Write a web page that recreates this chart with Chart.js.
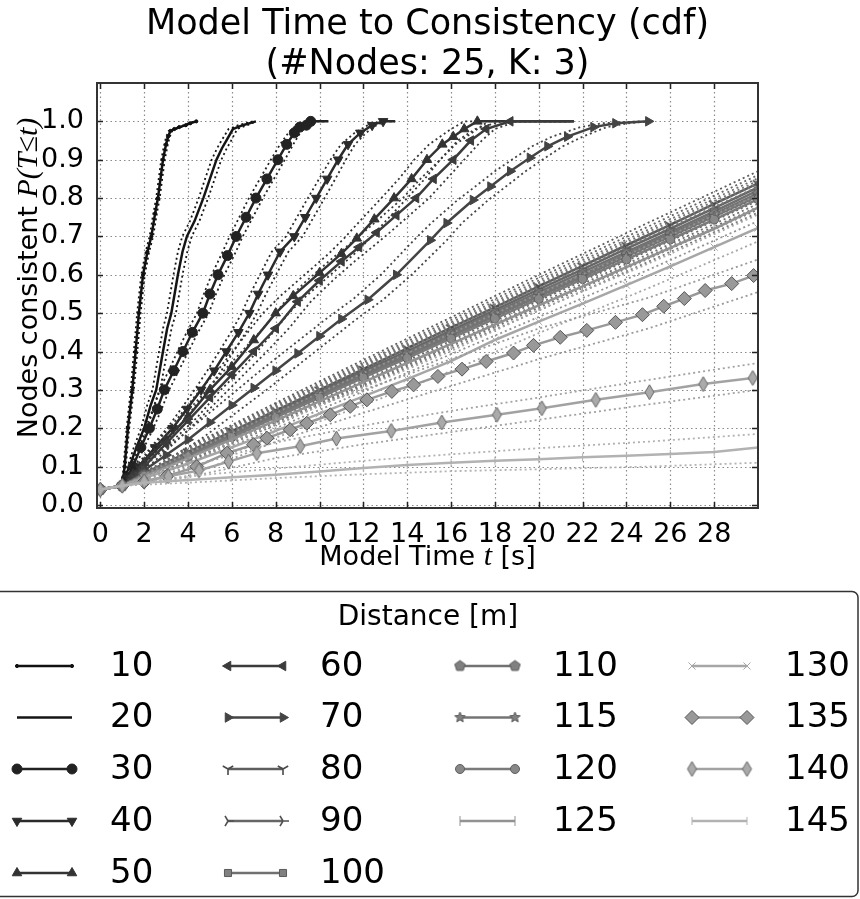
<!DOCTYPE html>
<html>
<head>
<meta charset="utf-8">
<title>Model Time to Consistency (cdf)</title>
<script src="https://cdn.jsdelivr.net/npm/chart.js@4.4.0/dist/chart.umd.min.js"></script>
<style>
  html, body { margin: 0; padding: 0; background: #fff; }
  canvas { display: block; }
</style>
</head>
<body>
<canvas id="cdfChart" width="860" height="899"></canvas>
<script>
// Axis ticks
const xTicks = [0, 2, 4, 6, 8, 10, 12, 14, 16, 18, 20, 22, 24, 26, 28];
const yTicks = [0.0, 0.1, 0.2, 0.3, 0.4, 0.5, 0.6, 0.7, 0.8, 0.9, 1.0];

// Distances (legend labels)
const distances = ['10', '20', '30', '40', '50', '60', '70', '80', '90', '100',
                   '110', '115', '120', '125', '130', '135', '140', '145'];

// Short distances: time samples (mean / lower bound / upper bound) sharing one probability list
const s10T   = [0, 1.0, 1.05, 1.11, 1.26, 1.46, 1.61, 1.76, 1.95, 2.15, 2.33, 2.5, 2.63, 2.86, 3.0, 3.09, 3.2, 3.38, 3.6, 3.9, 4.1, 4.38];
const s10TLo = [0, 1.0, 1.08, 1.16, 1.32, 1.53, 1.69, 1.84, 2.03, 2.23, 2.41, 2.58, 2.71, 2.94, 3.08, 3.17, 3.28, 3.46, 3.68, 3.98, 4.18, 4.38];
const s10THi = [0, 0.98, 1.02, 1.06, 1.2, 1.39, 1.53, 1.68, 1.87, 2.07, 2.25, 2.42, 2.55, 2.78, 2.92, 3.01, 3.12, 3.3, 3.52, 3.82, 4.02, 4.3];
const s10P   = [0.04, 0.05, 0.07, 0.1, 0.2, 0.3, 0.4, 0.5, 0.6, 0.66, 0.7, 0.76, 0.8, 0.9, 0.94, 0.96, 0.975, 0.98, 0.985, 0.99, 0.995, 1.0];

const s20T   = [0, 1.0, 1.1, 1.33, 1.65, 2.0, 2.3, 2.55, 2.86, 3.05, 3.24, 3.54, 3.75, 3.95, 4.3, 4.7, 5.0, 5.3, 5.55, 5.75, 6.05, 6.5, 7.1];
const s20TLo = [0, 1.0, 1.15, 1.42, 1.78, 2.15, 2.47, 2.73, 3.05, 3.25, 3.45, 3.75, 3.97, 4.17, 4.52, 4.92, 5.22, 5.52, 5.77, 5.97, 6.25, 6.7, 7.1];
const s20THi = [0, 0.98, 1.05, 1.25, 1.53, 1.86, 2.14, 2.38, 2.68, 2.86, 3.04, 3.34, 3.54, 3.74, 4.09, 4.49, 4.78, 5.08, 5.33, 5.53, 5.85, 6.3, 6.95];
const s20P   = [0.04, 0.05, 0.07, 0.1, 0.15, 0.2, 0.26, 0.3, 0.4, 0.46, 0.5, 0.6, 0.66, 0.7, 0.74, 0.8, 0.85, 0.9, 0.93, 0.95, 0.98, 0.99, 1.0];

const s30T   = [0, 1.0, 1.2, 1.49, 1.85, 2.24, 2.6, 2.92, 3.35, 3.77, 4.2, 4.68, 5.0, 5.37, 5.8, 6.2, 6.65, 7.1, 7.6, 8.1, 8.5, 8.85, 9.1, 9.4, 9.6, 10.4];
const s30TLo = [0, 1.0, 1.26, 1.6, 2.0, 2.42, 2.8, 3.14, 3.58, 4.02, 4.46, 4.95, 5.28, 5.66, 6.1, 6.5, 6.96, 7.42, 7.92, 8.42, 8.8, 9.12, 9.35, 9.62, 9.8, 10.4];
const s30THi = [0, 0.98, 1.14, 1.38, 1.7, 2.06, 2.4, 2.7, 3.12, 3.52, 3.94, 4.41, 4.72, 5.08, 5.5, 5.9, 6.34, 6.78, 7.28, 7.78, 8.2, 8.58, 8.85, 9.18, 9.4, 10.3];
const s30P   = [0.04, 0.05, 0.07, 0.1, 0.15, 0.2, 0.25, 0.3, 0.35, 0.4, 0.45, 0.5, 0.55, 0.6, 0.65, 0.7, 0.75, 0.8, 0.85, 0.9, 0.94, 0.97, 0.985, 0.99, 1.0, 1.0];

const s40T   = [0, 1.0, 1.3, 1.78, 2.5, 3.3, 3.95, 4.6, 5.2, 5.75, 6.3, 6.8, 7.2, 7.65, 8.2, 8.85, 9.35, 9.85, 10.35, 10.85, 11.3, 11.86, 12.4, 12.9, 13.45];
const s40TLo = [0, 1.0, 1.38, 1.92, 2.7, 3.55, 4.22, 4.9, 5.52, 6.08, 6.64, 7.15, 7.56, 8.02, 8.58, 9.23, 9.73, 10.23, 10.72, 11.2, 11.62, 12.12, 12.6, 13.0, 13.45];
const s40THi = [0, 0.98, 1.22, 1.64, 2.3, 3.05, 3.68, 4.3, 4.88, 5.42, 5.96, 6.45, 6.84, 7.28, 7.82, 8.47, 8.97, 9.47, 9.98, 10.5, 10.98, 11.6, 12.2, 12.8, 13.4];
const s40P   = [0.04, 0.05, 0.07, 0.1, 0.15, 0.2, 0.25, 0.3, 0.35, 0.4, 0.45, 0.5, 0.55, 0.6, 0.66, 0.7, 0.75, 0.8, 0.85, 0.9, 0.94, 0.97, 0.99, 1.0, 1.0];

const s50T   = [0, 1.0, 1.5, 2, 3, 4, 5, 6, 7, 8, 8.8, 10, 11, 11.7, 12.5, 13.4, 14.2, 14.9, 15.6, 16.1, 16.6, 17.2, 21.6];
const s50TLo = [0, 1.0, 1.6, 2.2, 3.35, 4.45, 5.5, 6.55, 7.6, 8.6, 9.4, 10.6, 11.6, 12.3, 13.1, 14.0, 14.8, 15.5, 16.2, 16.7, 17.2, 17.7, 21.6];
const s50THi = [0, 0.98, 1.4, 1.82, 2.68, 3.58, 4.55, 5.48, 6.45, 7.42, 8.22, 9.42, 10.42, 11.12, 11.92, 12.82, 13.62, 14.32, 15.0, 15.5, 16.0, 16.6, 21.3];
const s50P   = [0.04, 0.05, 0.08, 0.11, 0.17, 0.23, 0.3, 0.36, 0.43, 0.5, 0.545, 0.605, 0.655, 0.695, 0.745, 0.8, 0.85, 0.9, 0.94, 0.96, 0.98, 1.0, 1.0];

const s60T   = [0, 1.0, 1.5, 2, 3, 4, 5, 6, 7, 8, 9, 10, 11, 11.8, 12.6, 13.5, 14.4, 15.2, 16.1, 16.9, 17.6, 18.7, 21.6];
const s60TLo = [0, 1.0, 1.6, 2.2, 3.35, 4.45, 5.5, 6.55, 7.6, 8.6, 9.6, 10.6, 11.6, 12.4, 13.2, 14.1, 15.0, 15.8, 16.6, 17.4, 18.0, 19.0, 21.6];
const s60THi = [0, 0.98, 1.4, 1.82, 2.68, 3.58, 4.55, 5.48, 6.45, 7.42, 8.42, 9.42, 10.42, 11.2, 12.0, 12.9, 13.8, 14.6, 15.5, 16.3, 17.1, 18.3, 21.3];
const s60P   = [0.04, 0.05, 0.075, 0.1, 0.16, 0.22, 0.28, 0.34, 0.4, 0.46, 0.53, 0.585, 0.635, 0.672, 0.71, 0.755, 0.8, 0.85, 0.9, 0.95, 0.98, 1.0, 1.0];

const s70T   = [0, 1.0, 2, 3, 4, 5, 6, 7, 8, 9, 10, 11, 12.2, 13.5, 15.05, 15.8, 17.0, 17.8, 18.7, 19.6, 20.4, 21.3, 22.5, 23.5, 25.0];
const s70TLo = [0, 1.0, 2.3, 3.45, 4.55, 5.6, 6.65, 7.7, 8.7, 9.7, 10.7, 11.7, 12.9, 14.2, 15.8, 16.5, 17.7, 18.5, 19.4, 20.3, 21.1, 22.0, 23.1, 24.1, 25.0];
const s70THi = [0, 0.98, 1.75, 2.6, 3.5, 4.45, 5.4, 6.35, 7.3, 8.3, 9.3, 10.3, 11.5, 12.8, 14.3, 15.1, 16.3, 17.1, 18.0, 18.9, 19.7, 20.6, 21.9, 22.9, 24.6];
const s70P   = [0.04, 0.05, 0.09, 0.13, 0.17, 0.215, 0.26, 0.305, 0.35, 0.395, 0.44, 0.485, 0.535, 0.6, 0.69, 0.735, 0.795, 0.83, 0.87, 0.905, 0.935, 0.96, 0.985, 0.995, 1.0];

// Long distances: probability at shared time samples
const gT  = [0, 1, 2, 4, 6, 8, 10, 12, 14, 16, 18, 20, 22, 24, 26, 28, 30];
const s80P  = [0.04, 0.05, 0.082, 0.138, 0.192, 0.246, 0.3, 0.354, 0.408, 0.462, 0.515, 0.57, 0.623, 0.677, 0.73, 0.785, 0.838];
const s90P  = [0.04, 0.05, 0.08, 0.135, 0.188, 0.241, 0.295, 0.348, 0.401, 0.455, 0.508, 0.562, 0.614, 0.668, 0.72, 0.774, 0.828];
const s100P = [0.04, 0.05, 0.079, 0.132, 0.185, 0.237, 0.29, 0.343, 0.396, 0.449, 0.502, 0.555, 0.607, 0.66, 0.712, 0.765, 0.82];
const s110P = [0.04, 0.05, 0.078, 0.13, 0.182, 0.234, 0.287, 0.339, 0.392, 0.444, 0.497, 0.549, 0.6, 0.654, 0.706, 0.758, 0.812];
const s115P = [0.04, 0.05, 0.077, 0.128, 0.18, 0.232, 0.284, 0.336, 0.388, 0.44, 0.492, 0.544, 0.595, 0.648, 0.7, 0.752, 0.805];
const s120P = [0.04, 0.05, 0.076, 0.126, 0.177, 0.228, 0.28, 0.332, 0.383, 0.434, 0.486, 0.537, 0.589, 0.64, 0.692, 0.744, 0.797];
const s125P = [0.04, 0.05, 0.074, 0.122, 0.171, 0.22, 0.27, 0.32, 0.37, 0.42, 0.47, 0.52, 0.57, 0.62, 0.67, 0.72, 0.775];
const s130P = [0.04, 0.05, 0.07, 0.108, 0.15, 0.193, 0.238, 0.283, 0.328, 0.375, 0.43, 0.478, 0.525, 0.573, 0.622, 0.672, 0.722];
const s145P = [0.04, 0.05, 0.058, 0.065, 0.072, 0.079, 0.087, 0.096, 0.104, 0.11, 0.115, 0.119, 0.124, 0.128, 0.133, 0.138, 0.15];

const s135T = [0, 1, 2, 3.04, 4.4, 5.78, 6.99, 7.6, 8.66, 9.42, 10.49, 11.4, 12.16, 13.3, 14.29, 15.4, 16.5, 17.6, 18.85, 19.76, 20.98, 22.19, 23.5, 24.73, 25.7, 26.64, 27.59, 28.8, 29.8];
const s135P = [0.04, 0.05, 0.06, 0.075, 0.1, 0.135, 0.157, 0.174, 0.196, 0.213, 0.235, 0.257, 0.274, 0.296, 0.313, 0.335, 0.354, 0.374, 0.396, 0.416, 0.437, 0.455, 0.476, 0.496, 0.518, 0.538, 0.559, 0.577, 0.598];
const s140T = [0, 1, 2.0, 3.1, 4.5, 5.85, 7.14, 9.12, 10.77, 13.27, 15.58, 18.09, 20.14, 22.6, 25.05, 27.5, 29.76];
const s140P = [0.04, 0.05, 0.062, 0.075, 0.09, 0.113, 0.135, 0.153, 0.173, 0.193, 0.215, 0.235, 0.252, 0.274, 0.294, 0.315, 0.331];

// Confidence bounds of the long distances
const gTb = [0, 1, 4, 8, 12, 16, 20, 25, 30];
const s80Lo  = [0.04, 0.05, 0.125, 0.226, 0.33, 0.435, 0.54, 0.672, 0.803];
const s80Hi  = [0.04, 0.05, 0.151, 0.266, 0.378, 0.489, 0.6, 0.736, 0.87];
const s90Lo  = [0.04, 0.05, 0.122, 0.221, 0.324, 0.428, 0.532, 0.662, 0.793];
const s90Hi  = [0.04, 0.05, 0.148, 0.261, 0.372, 0.482, 0.592, 0.726, 0.86];
const s100Lo = [0.04, 0.05, 0.119, 0.217, 0.319, 0.422, 0.525, 0.654, 0.785];
const s100Hi = [0.04, 0.05, 0.145, 0.257, 0.367, 0.476, 0.585, 0.718, 0.852];
const s110Lo = [0.04, 0.05, 0.117, 0.214, 0.315, 0.417, 0.519, 0.648, 0.777];
const s110Hi = [0.04, 0.05, 0.143, 0.254, 0.363, 0.471, 0.579, 0.712, 0.845];
const s115Lo = [0.04, 0.05, 0.115, 0.212, 0.312, 0.413, 0.514, 0.642, 0.77];
const s115Hi = [0.04, 0.05, 0.141, 0.252, 0.36, 0.467, 0.574, 0.706, 0.838];
const s120Lo = [0.04, 0.05, 0.113, 0.208, 0.308, 0.407, 0.507, 0.634, 0.762];
const s120Hi = [0.04, 0.05, 0.139, 0.248, 0.356, 0.461, 0.567, 0.698, 0.83];
const s125Lo = [0.04, 0.05, 0.109, 0.2, 0.296, 0.393, 0.49, 0.613, 0.74];
const s125Hi = [0.04, 0.05, 0.135, 0.24, 0.344, 0.447, 0.55, 0.677, 0.808];
const s130Lo = [0.04, 0.05, 0.096, 0.175, 0.26, 0.349, 0.448, 0.565, 0.687];
const s130Hi = [0.04, 0.05, 0.12, 0.211, 0.306, 0.401, 0.508, 0.629, 0.757];
const s135Lo = [0.04, 0.05, 0.075, 0.165, 0.24, 0.31, 0.38, 0.46, 0.555];
const s135Hi = [0.04, 0.05, 0.105, 0.225, 0.3, 0.38, 0.46, 0.54, 0.64];
const s140Lo = [0.04, 0.05, 0.072, 0.122, 0.158, 0.19, 0.222, 0.262, 0.3];
const s140Hi = [0.04, 0.05, 0.098, 0.163, 0.207, 0.245, 0.28, 0.326, 0.37];
const s145Lo = [0.04, 0.05, 0.058, 0.07, 0.08, 0.088, 0.093, 0.1, 0.11];
const s145Hi = [0.04, 0.05, 0.075, 0.095, 0.115, 0.132, 0.148, 0.165, 0.185];

const FONT = "'DejaVu Sans', sans-serif";

// ---- marker shapes not built into Chart.js ----
function makeMarker(r, paint) {
  const c = document.createElement('canvas');
  const size = Math.ceil(r * 2 + 4);
  c.width = c.height = size;
  const g = c.getContext('2d');
  g.translate(size / 2, size / 2);
  paint(g, r);
  return c;
}
function triMarker(color, angles) {
  return makeMarker(6, (g, r) => {
    g.strokeStyle = color;
    g.lineWidth = 1.6;
    g.beginPath();
    angles.forEach(a => {
      g.moveTo(0, 0);
      g.lineTo(r * Math.cos(a), r * Math.sin(a));
    });
    g.stroke();
  });
}
function polyMarker(r, pts, fill, edge) {
  return makeMarker(r, g => {
    g.beginPath();
    pts.forEach(([x, y], i) => (i ? g.lineTo(x, y) : g.moveTo(x, y)));
    g.closePath();
    g.fillStyle = fill;
    g.fill();
    g.strokeStyle = edge;
    g.lineWidth = 1;
    g.stroke();
  });
}
function ngon(n, r, inner) {
  const out = [];
  const k = inner ? n * 2 : n;
  for (let i = 0; i < k; i++) {
    const a = -Math.PI / 2 + i * 2 * Math.PI / k;
    const rr = inner && i % 2 ? r * inner : r;
    out.push([rr * Math.cos(a), rr * Math.sin(a)]);
  }
  return out;
}
const deg = d => d * Math.PI / 180;

// line / marker look per distance
const seriesStyle = {
  '10':  { color: '#111', marker: 'circle', radius: 1.6 },
  '20':  { color: '#151515', marker: 'circle', radius: 0 },
  '30':  { color: '#222', marker: 'circle', radius: 5 },
  '40':  { color: '#2b2b2b', marker: 'triangle', radius: 5.5, rotation: 180 },
  '50':  { color: '#333', marker: 'triangle', radius: 5.5 },
  '60':  { color: '#3b3b3b', marker: 'triangle', radius: 5.5, rotation: -90 },
  '70':  { color: '#444', marker: 'triangle', radius: 5.5, rotation: 90 },
  '80':  { color: '#5e5e5e', marker: triMarker('#4a4a4a', [deg(90), deg(210), deg(330)]), radius: 5 },
  '90':  { color: '#666', marker: triMarker('#505050', [deg(0), deg(120), deg(240)]), radius: 5 },
  '100': { color: '#707070', marker: 'rect', radius: 5, fill: '#808080', edge: '#5a5a5a' },
  '110': { color: '#727272', marker: polyMarker(5.5, ngon(5, 5.5), '#808080', '#5a5a5a'), radius: 5 },
  '115': { color: '#747474', marker: polyMarker(5.5, ngon(5, 5.5, 0.45), '#808080', '#5a5a5a'), radius: 5 },
  '120': { color: '#7a7a7a', marker: 'circle', radius: 4.5, fill: '#888', edge: '#5e5e5e' },
  '125': { color: '#929292', marker: 'line', radius: 5, rotation: 90 },
  '130': { color: '#a6a6a6', marker: 'crossRot', radius: 5 },
  '135': { color: '#999', marker: 'rectRot', radius: 7, fill: '#999', edge: '#555' },
  '140': { color: '#a2a2a2', marker: polyMarker(7.5, [[0, -7.5], [4.5, 0], [0, 7.5], [-4.5, 0]], '#aaa', '#666'), radius: 6 },
  '145': { color: '#b2b2b2', marker: 'line', radius: 4, rotation: 90 }
};

const pts = (ts, ps) => ts.map((t, i) => ({ x: t, y: ps[i] }));

// each distance: mean curve plus dotted lower / upper bound
const curves = {
  '10':  [pts(s10T, s10P), pts(s10TLo, s10P), pts(s10THi, s10P)],
  '20':  [pts(s20T, s20P), pts(s20TLo, s20P), pts(s20THi, s20P)],
  '30':  [pts(s30T, s30P), pts(s30TLo, s30P), pts(s30THi, s30P)],
  '40':  [pts(s40T, s40P), pts(s40TLo, s40P), pts(s40THi, s40P)],
  '50':  [pts(s50T, s50P), pts(s50TLo, s50P), pts(s50THi, s50P)],
  '60':  [pts(s60T, s60P), pts(s60TLo, s60P), pts(s60THi, s60P)],
  '70':  [pts(s70T, s70P), pts(s70TLo, s70P), pts(s70THi, s70P)],
  '80':  [pts(gT, s80P), pts(gTb, s80Lo), pts(gTb, s80Hi)],
  '90':  [pts(gT, s90P), pts(gTb, s90Lo), pts(gTb, s90Hi)],
  '100': [pts(gT, s100P), pts(gTb, s100Lo), pts(gTb, s100Hi)],
  '110': [pts(gT, s110P), pts(gTb, s110Lo), pts(gTb, s110Hi)],
  '115': [pts(gT, s115P), pts(gTb, s115Lo), pts(gTb, s115Hi)],
  '120': [pts(gT, s120P), pts(gTb, s120Lo), pts(gTb, s120Hi)],
  '125': [pts(gT, s125P), pts(gTb, s125Lo), pts(gTb, s125Hi)],
  '130': [pts(gT, s130P), pts(gTb, s130Lo), pts(gTb, s130Hi)],
  '135': [pts(s135T, s135P), pts(gTb, s135Lo), pts(gTb, s135Hi)],
  '140': [pts(s140T, s140P), pts(gTb, s140Lo), pts(gTb, s140Hi)],
  '145': [pts(gT, s145P), pts(gTb, s145Lo), pts(gTb, s145Hi)]
};

// no marker on the flat tail once a curve has reached 1.0
const tailRadius = r => c => {
  const d = c.dataset.data;
  const i = c.dataIndex;
  return i > 0 && d[i].y >= 1 && d[i - 1].y >= 1 ? 0 : r;
};

// later distances are drawn on top, like the plotting order
let drawOrder = 1000;
const datasets = [];
distances.forEach(d => {
  const st = seriesStyle[d];
  const [mean, lo, hi] = curves[d];
  [lo, hi].forEach(b => datasets.push({
    label: d + ' bound',
    data: b,
    borderColor: st.color,
    borderWidth: 1.8,
    borderDash: [2, 3],
    pointRadius: 0,
    fill: false,
    tension: 0,
    order: drawOrder--
  }));
  datasets.push({
    label: d,
    data: mean,
    borderColor: st.color,
    borderWidth: 2.5,
    fill: false,
    tension: 0,
    pointStyle: st.marker,
    pointRadius: tailRadius(st.radius),
    pointRotation: st.rotation || 0,
    pointBackgroundColor: st.fill || st.color,
    pointBorderColor: st.edge || st.color,
    pointBorderWidth: 1,
    order: drawOrder--
  });
});

// dotted grid under the curves
const gridPlugin = {
  id: 'dottedGrid',
  beforeDatasetsDraw(chart) {
    const { ctx, chartArea: a, scales: { x, y } } = chart;
    ctx.save();
    ctx.strokeStyle = '#8a8a8a';
    ctx.lineWidth = 1.2;
    ctx.setLineDash([1.5, 3]);
    ctx.beginPath();
    xTicks.forEach(v => {
      const px = Math.round(x.getPixelForValue(v)) + 0.5;
      ctx.moveTo(px, a.top);
      ctx.lineTo(px, a.bottom);
    });
    yTicks.forEach(v => {
      const py = Math.round(y.getPixelForValue(v)) + 0.5;
      ctx.moveTo(a.left, py);
      ctx.lineTo(a.right, py);
    });
    ctx.stroke();
    ctx.restore();
  }
};

// frame, inward ticks, titles and legend
function drawRun(ctx, parts, x, y) {
  let cx = x;
  parts.forEach(p => {
    ctx.font = p.font;
    ctx.fillText(p.text, cx, y);
    cx += ctx.measureText(p.text).width;
  });
}
function runWidth(ctx, parts) {
  return parts.reduce((w, p) => { ctx.font = p.font; return w + ctx.measureText(p.text).width; }, 0);
}

const framePlugin = {
  id: 'frameAndText',
  afterDatasetsDraw(chart) {
    const { ctx, chartArea: a, scales: { x, y } } = chart;
    ctx.save();
    ctx.strokeStyle = '#222';
    ctx.lineWidth = 1.5;
    ctx.beginPath();
    xTicks.forEach(v => {
      const px = Math.round(x.getPixelForValue(v)) + 0.5;
      ctx.moveTo(px, a.bottom); ctx.lineTo(px, a.bottom - 6);
      ctx.moveTo(px, a.top); ctx.lineTo(px, a.top + 6);
    });
    yTicks.forEach(v => {
      const py = Math.round(y.getPixelForValue(v)) + 0.5;
      ctx.moveTo(a.left, py); ctx.lineTo(a.left + 6, py);
      ctx.moveTo(a.right, py); ctx.lineTo(a.right - 6, py);
    });
    ctx.stroke();
    ctx.strokeStyle = '#333';
    ctx.lineWidth = 2;
    ctx.strokeRect(a.left, a.top, a.right - a.left, a.bottom - a.top);
    ctx.restore();
  },
  afterDraw(chart) {
    const { ctx, chartArea: a } = chart;
    const midX = (a.left + a.right) / 2;
    ctx.save();
    ctx.fillStyle = '#000';
    ctx.textBaseline = 'alphabetic';

    // chart title
    ctx.font = '35px ' + FONT;
    ctx.textAlign = 'center';
    ctx.fillText('Model Time to Consistency (cdf)', midX, 34);
    ctx.fillText('(#Nodes: 25, K: 3)', midX, 74);

    // axis titles
    ctx.textAlign = 'left';
    const sans = '27px ' + FONT;
    const ital = 'italic 30px "Liberation Serif", serif';
    const xParts = [{ text: 'Model Time ', font: sans }, { text: 't', font: ital }, { text: ' [s]', font: sans }];
    drawRun(ctx, xParts, midX - runWidth(ctx, xParts) / 2, 565);

    const yParts = [{ text: 'Nodes consistent ', font: sans }, { text: 'P(T\u2264t)', font: ital }];
    ctx.save();
    ctx.translate(37, 278);
    ctx.rotate(-Math.PI / 2);
    drawRun(ctx, yParts, -runWidth(ctx, yParts) / 2, 0);
    ctx.restore();

    // legend
    ctx.strokeStyle = '#333';
    ctx.lineWidth = 1.5;
    ctx.beginPath();
    if (ctx.roundRect) ctx.roundRect(-8, 591.5, 866, 305, 6);
    else ctx.rect(-8, 591.5, 866, 305);
    ctx.stroke();

    ctx.font = '28px ' + FONT;
    ctx.textAlign = 'center';
    ctx.textBaseline = 'middle';
    ctx.fillText('Distance [m]', 428, 618);

    const colSizes = [5, 5, 4, 4];
    const colLine = [[17, 72], [228, 283], [460, 515], [692, 747]];
    const colText = [110, 320, 553, 785];
    const rowY = [666, 717.5, 769, 821, 873];
    let k = 0;
    colSizes.forEach((n, c) => {
      for (let r = 0; r < n; r++, k++) {
        const d = distances[k];
        const st = seriesStyle[d];
        const yy = rowY[r];
        const [x1, x2] = colLine[c];
        ctx.strokeStyle = st.color;
        ctx.lineWidth = 2.5;
        ctx.setLineDash([]);
        ctx.beginPath();
        ctx.moveTo(x1, yy);
        ctx.lineTo(x2, yy);
        ctx.stroke();
        if (st.radius > 0) {
          ctx.fillStyle = st.fill || st.color;
          ctx.strokeStyle = st.edge || st.color;
          ctx.lineWidth = 1;
          [x1, x2].forEach(px => Chart.helpers.drawPoint(ctx, {
            pointStyle: st.marker, rotation: st.rotation || 0, radius: st.radius, borderWidth: 1
          }, px, yy));
        }
        ctx.fillStyle = '#000';
        ctx.font = '34px ' + FONT;
        ctx.textAlign = 'left';
        ctx.fillText(d, colText[c], yy + 1);
      }
    });
    ctx.restore();
  }
};

new Chart(document.getElementById('cdfChart').getContext('2d'), {
  type: 'line',
  data: { datasets },
  options: {
    responsive: false,
    animation: false,
    layout: { padding: { left: 0, right: 102, top: 83, bottom: 311 }, autoPadding: false },
    plugins: {
      legend: { display: false },
      title: { display: false },
      tooltip: { enabled: false }
    },
    scales: {
      x: {
        type: 'linear',
        min: -0.15,
        max: 30,
        afterBuildTicks: s => { s.ticks = xTicks.map(v => ({ value: v })); },
        afterFit: s => { s.height = 80; },
        grid: { display: false },
        border: { display: false },
        ticks: { color: '#000', font: { family: FONT, size: 27 }, padding: 3, maxRotation: 0, autoSkip: false, callback: v => String(v) }
      },
      y: {
        min: -0.008,
        max: 1.1,
        afterBuildTicks: s => { s.ticks = yTicks.map(v => ({ value: v })); },
        afterFit: s => { s.width = 97; },
        grid: { display: false },
        border: { display: false },
        ticks: { color: '#000', font: { family: FONT, size: 27 }, padding: 5, autoSkip: false, callback: v => v.toFixed(1) }
      }
    }
  },
  plugins: [gridPlugin, framePlugin]
});
</script>
</body>
</html>
